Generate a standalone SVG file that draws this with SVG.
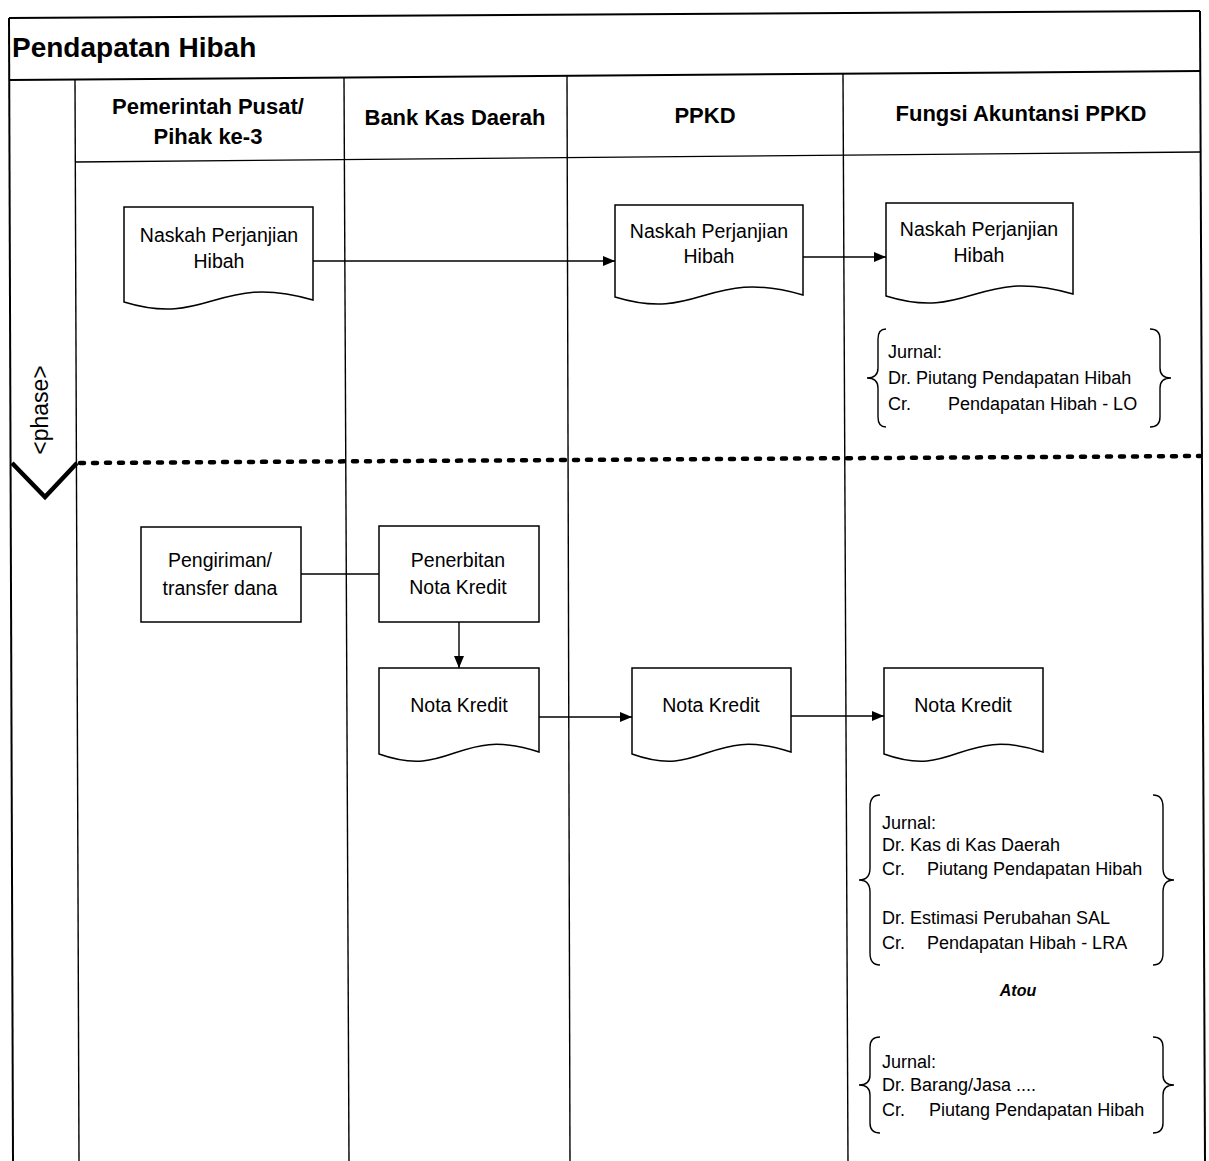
<svg xmlns="http://www.w3.org/2000/svg" width="1209" height="1161" viewBox="0 0 1209 1161">
<style>
.frame{stroke:#000;stroke-width:2;fill:none}
.lane{stroke:#000;stroke-width:1.4;fill:none}
.shape{stroke:#000;stroke-width:1.5;fill:#fff}
.conn{stroke:#000;stroke-width:1.4;fill:none}
.brace{stroke:#000;stroke-width:1.4;fill:none}
.title{font-family:"Liberation Sans",Arial,sans-serif;font-weight:bold;font-size:28px;fill:#000}
.hdr{font-family:"Liberation Sans",Arial,sans-serif;font-weight:bold;font-size:22px;fill:#000;text-anchor:middle}
.lbl{font-family:"Liberation Sans",Arial,sans-serif;font-size:19.5px;fill:#000;text-anchor:middle}
.jr{font-family:"Liberation Sans",Arial,sans-serif;font-size:18px;fill:#000}
.atou{font-family:"Liberation Sans",Arial,sans-serif;font-size:16px;font-weight:bold;font-style:italic;fill:#000;text-anchor:middle}
.phase{font-family:"Liberation Sans",Arial,sans-serif;font-size:23px;fill:#000;text-anchor:middle}
</style>
<defs>
<marker id="arr" viewBox="0 0 12 10" refX="12" refY="5" markerWidth="12" markerHeight="10" markerUnits="userSpaceOnUse" orient="auto">
<path d="M0,0 L12,5 L0,10 Z" fill="#000"/>
</marker>
</defs>
<rect width="1209" height="1161" fill="#fff"/>

<g id="pool">
<line class="frame" x1="9" y1="18" x2="1200" y2="11"/>
<line class="frame" x1="9" y1="18" x2="13" y2="1161"/>
<line class="frame" x1="1200" y1="11" x2="1205" y2="1161"/>
<line class="frame" x1="9" y1="80" x2="1200" y2="71"/>
<text class="title" x="12" y="57">Pendapatan Hibah</text>
</g>

<g id="lanes">
<line class="lane" x1="75" y1="80" x2="79" y2="1161"/>
<line class="lane" x1="344" y1="78" x2="349" y2="1161"/>
<line class="lane" x1="567" y1="76" x2="570" y2="1161"/>
<line class="lane" x1="843" y1="74" x2="848" y2="1161"/>
<line class="lane" x1="75" y1="162" x2="1200" y2="152"/>
<text class="hdr" x="208" y="114">Pemerintah Pusat/</text>
<text class="hdr" x="208" y="144">Pihak ke-3</text>
<text class="hdr" x="455" y="125">Bank Kas Daerah</text>
<text class="hdr" x="705" y="123">PPKD</text>
<text class="hdr" x="1021" y="121">Fungsi Akuntansi PPKD</text>
</g>

<g id="phase">
<text class="phase" transform="translate(48,410) rotate(-90)" x="0" y="0">&lt;phase&gt;</text>
<path d="M12,463 L45,497 L77,463" stroke="#000" stroke-width="4.5" fill="none" stroke-linejoin="miter"/>
<line x1="80" y1="463" x2="1200" y2="456" stroke="#000" stroke-width="4.5" stroke-linecap="round" stroke-dasharray="4 9"/>
</g>

<g id="doc-naskah-pusat">
<path class="shape" d="M124,207 H313 V300 C217,272 209,328 124,302 Z"/>
<text class="lbl" x="219" y="242">Naskah Perjanjian</text>
<text class="lbl" x="219" y="268">Hibah</text>
</g>

<g id="doc-naskah-ppkd">
<path class="shape" d="M615,205 H803 V295 C707,267 700,323 615,297 Z"/>
<text class="lbl" x="709" y="238">Naskah Perjanjian</text>
<text class="lbl" x="709" y="263">Hibah</text>
</g>

<g id="doc-naskah-akuntansi">
<path class="shape" d="M886,203 H1073 V294 C977,266 970,322 886,296 Z"/>
<text class="lbl" x="979" y="236">Naskah Perjanjian</text>
<text class="lbl" x="979" y="262">Hibah</text>
</g>

<g id="jurnal-1">
<path class="brace" d="M886,329 Q878,329 878,339 V368 Q878,378 867,378 Q878,378 878,388 V417 Q878,427 886,427"/>
<path class="brace" d="M1150,329 Q1160,329 1160,339 V368 Q1160,378 1171,378 Q1160,378 1160,388 V417 Q1160,427 1150,427"/>
<text class="jr" x="888" y="358">Jurnal:</text>
<text class="jr" x="888" y="384">Dr. Piutang Pendapatan Hibah</text>
<text class="jr" y="410"><tspan x="888">Cr.</tspan><tspan x="948">Pendapatan Hibah - LO</tspan></text>
</g>

<g id="box-pengiriman">
<rect class="shape" x="141" y="527" width="160" height="95"/>
<text class="lbl" x="220" y="567">Pengiriman/</text>
<text class="lbl" x="220" y="595">transfer dana</text>
</g>

<g id="box-penerbitan">
<rect class="shape" x="379" y="526" width="160" height="96"/>
<text class="lbl" x="458" y="567">Penerbitan</text>
<text class="lbl" x="458" y="594">Nota Kredit</text>
</g>

<g id="doc-nota-bank">
<path class="shape" d="M379,668 H539 V752 C457,725 452,780 379,754 Z"/>
<text class="lbl" x="459" y="712">Nota Kredit</text>
</g>

<g id="doc-nota-ppkd">
<path class="shape" d="M632,668 H791 V752 C709,725 704,780 632,754 Z"/>
<text class="lbl" x="711" y="712">Nota Kredit</text>
</g>

<g id="doc-nota-akuntansi">
<path class="shape" d="M884,668 H1043 V752 C961,725 956,780 884,754 Z"/>
<text class="lbl" x="963" y="712">Nota Kredit</text>
</g>

<g id="jurnal-2">
<path class="brace" d="M880,795 Q870,795 870,807 V868 Q870,880 859,880 Q870,880 870,892 V953 Q870,965 880,965"/>
<path class="brace" d="M1153,795 Q1163,795 1163,807 V868 Q1163,880 1174,880 Q1163,880 1163,892 V953 Q1163,965 1153,965"/>
<text class="jr" x="882" y="829">Jurnal:</text>
<text class="jr" x="882" y="851">Dr. Kas di Kas Daerah</text>
<text class="jr" y="875"><tspan x="882">Cr.</tspan><tspan x="927">Piutang Pendapatan Hibah</tspan></text>
<text class="jr" x="882" y="924">Dr. Estimasi Perubahan SAL</text>
<text class="jr" y="949"><tspan x="882">Cr.</tspan><tspan x="927">Pendapatan Hibah - LRA</tspan></text>
</g>

<text id="atau" class="atou" x="1018" y="996">Atou</text>

<g id="jurnal-3">
<path class="brace" d="M880,1037 Q870,1037 870,1047 V1075 Q870,1085 859,1085 Q870,1085 870,1095 V1123 Q870,1133 880,1133"/>
<path class="brace" d="M1153,1037 Q1163,1037 1163,1047 V1075 Q1163,1085 1174,1085 Q1163,1085 1163,1095 V1123 Q1163,1133 1153,1133"/>
<text class="jr" x="882" y="1068">Jurnal:</text>
<text class="jr" x="882" y="1091">Dr. Barang/Jasa ....</text>
<text class="jr" y="1116"><tspan x="882">Cr.</tspan><tspan x="929">Piutang Pendapatan Hibah</tspan></text>
</g>

<g id="connectors">
<line class="conn" x1="313" y1="261" x2="615" y2="261" marker-end="url(#arr)"/>
<line class="conn" x1="803" y1="257" x2="886" y2="257" marker-end="url(#arr)"/>
<line class="conn" x1="301" y1="574" x2="379" y2="574"/>
<line class="conn" x1="459" y1="622" x2="459" y2="668" marker-end="url(#arr)"/>
<line class="conn" x1="539" y1="717" x2="632" y2="717" marker-end="url(#arr)"/>
<line class="conn" x1="791" y1="716" x2="884" y2="716" marker-end="url(#arr)"/>
</g>
</svg>
